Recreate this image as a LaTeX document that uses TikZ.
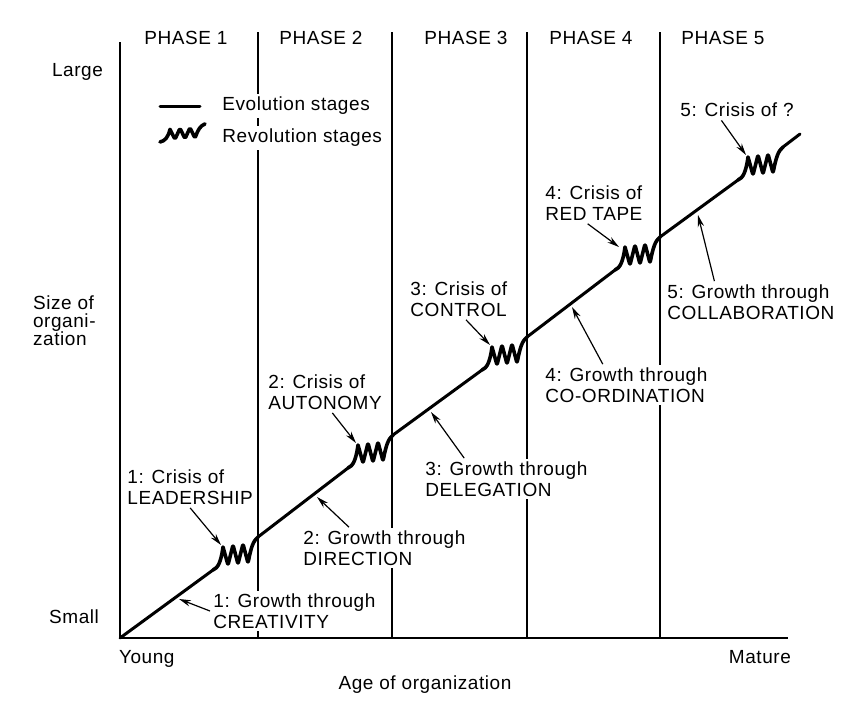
\documentclass[tikz,border=0pt]{standalone}
\usepackage{fontspec}
\setmainfont{Liberation Sans}[LetterSpace=3]
\usetikzlibrary{arrows.meta,calc}

\tikzset{
  curve/.style={line width=1.5pt,line cap=round,line join=round},
  phase/.style={line width=0.6pt},
  lbl/.style={fill=white,inner sep=1.5pt,align=left,anchor=west},
  ptr/.style={line width=0.6pt,-{Stealth[length=6pt,width=3.2pt]}},
  revol/.pic={
    \draw[curve,line width=1.8pt] (0,0) .. controls (5,-2) and (8,-8) .. (10,-23)
      [rounded corners=1pt] -- (15,-5) -- (20,-25) -- (25,-6) -- (30,-26) -- (35,-7)
      [sharp corners] .. controls (38,-22) and (40,-29) .. (45,-33);
  }
}

\begin{document}
\begin{tikzpicture}[x=0.5pt,y=-0.5pt,font=\fontsize{9.5}{10.5}\selectfont]
\useasboundingbox (0,0) rectangle (862,707);
\draw[phase] (258,32) -- (258,638);
\draw[phase] (392,32) -- (392,638);
\draw[phase] (527,32) -- (527,638);
\draw[phase] (660,32) -- (660,638);
\draw[line width=1pt] (120,42) -- (120,638) -- (788,638);

\node (ph1) at (186,38) {PHASE 1};
\node (ph2) at (321,38) {PHASE 2};
\node (ph3) at (466,38) {PHASE 3};
\node (ph4) at (591,38) {PHASE 4};
\node (ph5) at (723,38) {PHASE 5};
\node[anchor=east] (large) at (110,72) {Large};
\node[anchor=east] (small) at (106,617) {Small};
\node[anchor=west,align=left,font=\fontsize{9.5}{9}\selectfont] (size) at (26,321) {Size of\\organi-\\zation};
\node[anchor=west] (young) at (112,659) {Young};
\node[anchor=east] (mature) at (798,657) {Mature};
\node (age) at (425,685) {Age of organization};

\coordinate (evoa) at (160,106);
\coordinate (evob) at (200,106);
\draw[curve] (evoa) -- (evob);
\node[lbl] (evo) at (219,106) {Evolution stages};
\pic[yscale=0.55] at (160,142) {revol};
\node[lbl] (rev) at (219,138) {Revolution stages};

\node[lbl] (c1) at (124,487) {1: Crisis of\\LEADERSHIP};
\node[lbl] (g1) at (210,611) {1: Growth through\\CREATIVITY};
\node[lbl] (c2) at (265,392) {2: Crisis of\\AUTONOMY};
\node[lbl] (g2) at (300,548) {2: Growth through\\DIRECTION};
\node[lbl] (c3) at (407,299) {3: Crisis of\\CONTROL};
\node[lbl] (g3) at (422,479) {3: Growth through\\DELEGATION};
\node[lbl] (c4) at (542,203) {4: Crisis of\\RED TAPE};
\node[lbl] (g4) at (542,385) {4: Growth through\\CO-ORDINATION};
\node[lbl] (c5) at (677,110) {5: Crisis of ?};
\node[lbl] (g5) at (664,302) {5: Growth through\\COLLABORATION};

\coordinate (o) at (120,638);
\coordinate (s1) at (213,570);
\coordinate (e1) at (258,537);
\coordinate (s2) at (348,468);
\coordinate (e2) at (393,435);
\coordinate (s3) at (482,370);
\coordinate (e3) at (527,337);
\coordinate (s4) at (615,270);
\coordinate (e4) at (660,237);
\coordinate (s5) at (738,180);
\coordinate (e5) at (783,147);
\coordinate (fin) at (800,134);
\draw[curve] (o) -- (s1) (e1) -- (s2) (e2) -- (s3) (e3) -- (s4) (e4) -- (s5) (e5) -- (fin);
\pic at (s1) {revol};
\pic at (s2) {revol};
\pic at (s3) {revol};
\pic at (s4) {revol};
\pic at (s5) {revol};

\coordinate (tc1) at (221,545);
\coordinate (tc2) at (356,443);
\coordinate (tc3) at (490,345);
\coordinate (tc4) at (619,247);
\coordinate (tc5) at (746,155);
\coordinate (tg1) at (179,599);
\coordinate (tg2) at (317,497);
\coordinate (tg3) at (431,412);
\coordinate (tg4) at (572,307);
\coordinate (tg5) at (698,215);
\draw[ptr] ($(c1.south west)!.5!(c1.south east)$) -- (tc1);
\draw[ptr] ($(c2.south west)!.56!(c2.south east)$) -- (tc2);
\draw[ptr] ($(c3.south west)!.57!(c3.south east)$) -- (tc3);
\draw[ptr] ($(c4.south west)!.44!(c4.south east)$) -- (tc4);
\draw[ptr] ($(c5.south west)!.37!(c5.south east)$) -- (tc5);
\draw[ptr] (g1.west) -- (tg1);
\draw[ptr] ($(g2.north west)!.29!(g2.north east)$) -- (tg2);
\draw[ptr] ($(g3.north west)!.25!(g3.north east)$) -- (tg3);
\draw[ptr] ($(g4.north west)!.36!(g4.north east)$) -- (tg4);
\draw[ptr] ($(g5.north west)!.29!(g5.north east)$) -- (tg5);
\end{tikzpicture}
\end{document}
